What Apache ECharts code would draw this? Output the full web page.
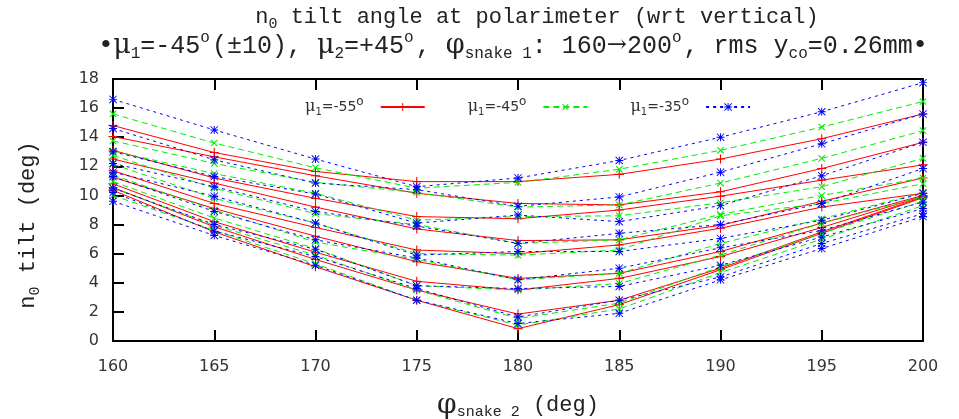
<!DOCTYPE html>
<html>
<head>
<meta charset="utf-8">
<script src="https://cdn.jsdelivr.net/npm/echarts@6.0.0/dist/echarts.min.js"></script>
<style>
html,body{margin:0;padding:0;background:#fff;}
#chart{width:959px;height:419px;}
</style>
</head>
<body>
<div id="chart"></div>
<script>
// phi_snake2 positions (x axis)
var phiSnake2 = [160, 165, 170, 175, 180, 185, 190, 195, 200];
var xTicks = [160, 165, 170, 175, 180, 185, 190, 195, 200];
var yTicks = [0, 2, 4, 6, 8, 10, 12, 14, 16, 18];

// mu1 = -55 deg (red, solid), one row per phi_snake1 setting
var tiltMu55 = [
  [14.8, 12.95, 11.65, 10.95, 10.95, 11.45, 12.5, 13.9, 15.6],
  [14.05, 12.65, 11.35, 10.15, 9.45, 9.35, 10.25, 11.85, 13.65],
  [13.1, 11.2, 9.8, 8.55, 8.4, 9.0, 9.95, 11.05, 12.1],
  [12.5, 10.85, 9.2, 7.7, 6.9, 6.95, 7.95, 9.6, 11.2],
  [11.7, 9.45, 7.8, 6.25, 6.0, 6.6, 7.75, 9.2, 10.15],
  [11.25, 9.1, 7.2, 5.45, 4.3, 4.65, 6.15, 8.1, 10.0],
  [10.8, 8.2, 6.1, 4.1, 3.5, 4.3, 5.8, 7.8, 9.95],
  [10.55, 7.85, 5.6, 3.5, 1.85, 2.8, 5.0, 7.5, 9.9],
  [10.35, 7.5, 5.1, 2.8, 0.85, 2.5, 4.9, 7.4, 9.85]
];
// mu1 = -45 deg (green, dashed)
var tiltMu45 = [
  [15.6, 13.6, 11.9, 10.5, 10.9, 11.8, 13.1, 14.7, 16.45],
  [13.75, 12.2, 10.9, 10.2, 9.2, 9.35, 10.85, 12.55, 14.45],
  [13.05, 11.5, 10.15, 8.3, 8.55, 8.6, 9.5, 10.6, 12.55],
  [12.75, 10.5, 8.75, 8.0, 6.7, 6.95, 8.7, 10.0, 11.2],
  [12.15, 9.8, 8.1, 6.0, 5.9, 6.25, 8.6, 9.45, 10.8],
  [11.4, 9.0, 6.8, 5.6, 4.2, 4.65, 6.7, 8.4, 10.2],
  [10.95, 8.45, 6.35, 3.8, 3.5, 3.95, 5.9, 8.1, 9.9],
  [10.5, 7.95, 5.9, 3.5, 1.55, 2.6, 5.1, 7.4, 9.6],
  [10.0, 7.6, 5.3, 2.8, 1.1, 2.2, 4.7, 7.0, 9.3]
];
// mu1 = -35 deg (blue, dotted)
var tiltMu35 = [
  [16.6, 14.5, 12.5, 10.6, 11.2, 12.4, 14.0, 15.75, 17.75],
  [14.6, 12.45, 10.85, 10.4, 9.25, 9.9, 11.6, 13.55, 15.6],
  [13.0, 11.3, 10.1, 8.1, 8.65, 8.2, 9.3, 11.35, 13.65],
  [12.2, 10.6, 8.9, 7.9, 6.7, 7.4, 8.0, 9.45, 11.85],
  [11.6, 9.95, 8.1, 5.9, 6.15, 6.15, 7.05, 8.3, 10.15],
  [11.3, 8.9, 6.95, 5.7, 4.2, 5.0, 6.4, 7.6, 9.55],
  [10.5, 8.0, 6.3, 3.8, 3.6, 3.75, 5.2, 7.15, 9.1],
  [10.2, 7.55, 5.8, 3.6, 1.65, 2.8, 4.4, 6.7, 8.75],
  [9.6, 7.25, 5.2, 2.8, 1.2, 1.9, 4.2, 6.35, 8.55]
];
var legendNames = ['-55', '-45', '-35'];

var plusPath = 'path://M0,4.4L10,4.4L10,5.6L0,5.6Z M4.4,0L5.6,0L5.6,10L4.4,10Z';
var starPath = 'path://M0,4.4L10,4.4L10,5.6L0,5.6Z M4.4,0L5.6,0L5.6,10L4.4,10Z ' +
  'M0.8,0L10,9.2L9.2,10L0,0.8Z M9.2,0L10,0.8L0.8,10L0,9.2Z';

var groups = [
  {name: legendNames[0], rows: tiltMu55, color: '#ff0000', dash: 'solid', symbol: plusPath, rot: 0, size: 9},
  {name: legendNames[1], rows: tiltMu45, color: '#00ee00', dash: [6, 4], symbol: plusPath, rot: 45, size: 9},
  {name: legendNames[2], rows: tiltMu35, color: '#0000ff', dash: [3, 4], symbol: starPath, rot: 0, size: 8}
];

var series = [];
groups.forEach(function(g){
  g.rows.forEach(function(row){
    series.push({
      name: g.name,
      type: 'line',
      data: phiSnake2.map(function(x, i){ return [x, row[i]]; }),
      symbol: g.symbol,
      symbolSize: g.size,
      symbolRotate: g.rot,
      showAllSymbol: true,
      lineStyle: {color: g.color, width: 1, type: g.dash},
      itemStyle: {color: g.color},
      emphasis: {disabled: true},
      animation: false
    });
  });
});

var mono = 'Liberation Mono';
var serif = 'DejaVu Serif';
var ink = '#222';
var subRich = {fontFamily: mono, fontSize: 15, fill: ink, color: ink, padding: [14, 0, 0, 0]};
var supRich = {fontFamily: mono, fontSize: 15, fill: ink, color: ink, padding: [0, 0, 16, 0]};

var myChart = echarts.init(document.getElementById('chart'));
var option = {
  backgroundColor: '#fff',
  animation: false,
  graphic: [{
    type: 'text', x: 537, y: 17,
    style: {
      text: 'n{s|0} tilt angle at polarimeter (wrt vertical)',
      align: 'center', verticalAlign: 'middle',
      fontFamily: mono, fontSize: 22, fill: ink,
      rich: {s: subRich}
    }
  }, {
    type: 'text', x: 513, y: 46,
    style: {
      text: '{b|•}{g|μ}{s|1}=-45{o|o}(±10), {g|μ}{s|2}=+45{o|o}, {g|φ}{s|snake 1}: 160{a|→}200{o|o}, rms y{s|co}=0.26mm{b|•}',
      align: 'center', verticalAlign: 'middle',
      fontFamily: mono, fontSize: 25, fill: ink,
      rich: {
        s: {fontFamily: mono, fontSize: 16, fill: ink, padding: [15, 0, 0, 0]},
        o: {fontFamily: mono, fontSize: 16, fill: ink, padding: [0, 2, 17, 0]},
        g: {fontFamily: serif, fontSize: 27, fill: ink},
        a: {fontFamily: serif, fontSize: 24, fill: ink},
        b: {fontFamily: serif, fontSize: 25, fill: ink}
      }
    }
  }],
  legend: {
    data: legendNames,
    left: 300, top: 91,
    align: 'right',
    itemWidth: 44, itemHeight: 10,
    itemGap: 42,
    formatter: function(name){
      return '{g|μ}{s|1}{t|=-' + name.slice(1) + '}{o|o}';
    },
    textStyle: {
      fontFamily: 'DejaVu Sans', fontSize: 14, color: '#333', padding: [0, 12, 0, 0],
      rich: {
        g: {fontFamily: serif, fontSize: 16, color: '#333'},
        t: {fontFamily: 'DejaVu Sans', fontSize: 14, color: '#333'},
        s: {fontFamily: 'DejaVu Sans', fontSize: 10, color: '#333', padding: [10, 0, 0, 0]},
        o: {fontFamily: 'DejaVu Sans', fontSize: 12, color: '#333', padding: [0, 0, 10, 0]}
      }
    }
  },
  grid: {left: 113, right: 36, top: 79, bottom: 78, show: true, borderColor: '#000', borderWidth: 2,
    outerBoundsMode: 'none', containLabel: false},
  xAxis: [{
    type: 'value', min: xTicks[0], max: xTicks[xTicks.length - 1], interval: 5,
    position: 'bottom',
    name: '{g|φ}{s|snake 2} (deg)',
    nameLocation: 'middle', nameGap: 50,
    nameTextStyle: {fontFamily: mono, fontSize: 22, color: ink,
      rich: {g: {fontFamily: serif, fontSize: 28, color: ink}, s: subRich}},
    axisLine: {show: false},
    axisTick: {show: true, inside: true, length: 11, lineStyle: {color: '#000', width: 2}},
    axisLabel: {fontFamily: 'DejaVu Sans', fontSize: 16, color: '#333', margin: 18},
    splitLine: {show: false}
  }, {
    type: 'value', min: xTicks[0], max: xTicks[xTicks.length - 1], interval: 5,
    position: 'top',
    axisLine: {show: false},
    axisTick: {show: true, inside: true, length: 11, lineStyle: {color: '#000', width: 2}},
    axisLabel: {show: false},
    splitLine: {show: false}
  }],
  yAxis: [{
    type: 'value', min: yTicks[0], max: yTicks[yTicks.length - 1], interval: 2,
    name: 'n{s|0} tilt (deg)',
    nameLocation: 'middle', nameGap: 70, nameRotate: 90,
    nameTextStyle: {fontFamily: mono, fontSize: 22, color: ink, padding: [0, 30, 0, 0], rich: {s: subRich}},
    axisLine: {show: false},
    axisTick: {show: true, inside: true, length: 11, lineStyle: {color: '#000', width: 2}},
    axisLabel: {fontFamily: 'DejaVu Sans', fontSize: 16, color: '#333', margin: 14},
    splitLine: {show: false}
  }],
  series: series
};
myChart.setOption(option);
</script>
</body>
</html>
